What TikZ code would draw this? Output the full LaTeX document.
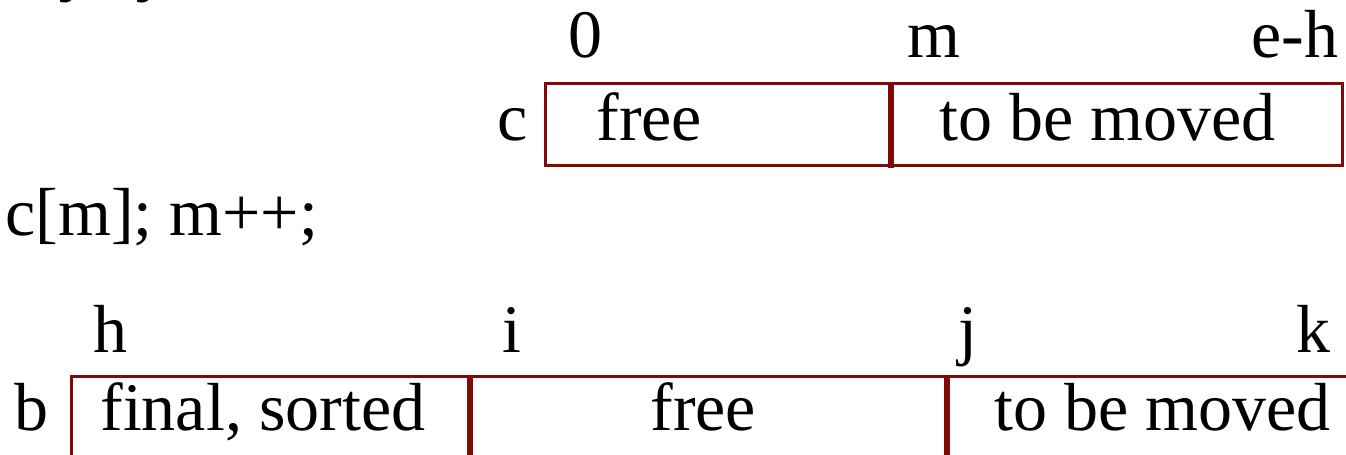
\documentclass[tikz,border=0pt]{standalone}
\usepackage{fontspec}
\setmainfont{Liberation Serif}
\definecolor{boxred}{RGB}{128,10,10}
\begin{document}
\begin{tikzpicture}[x=0.5pt,y=-0.5pt,
  txt/.style={inner sep=0pt,font=\fontsize{34}{40}\selectfont,anchor=base west},
  txtr/.style={txt,anchor=base east},
  frame/.style={draw=boxred,line width=1.5pt},
  divider/.style={draw=boxred,line width=2.6pt}]
\useasboundingbox (0,0) rectangle (1346,455);
\clip (0,0) rectangle (1346,455);
% clipped code line at the top
\node[txt] (code1) at (5,-11) {b[j]; j++;};
% top array c
\node[txt] (l0) at (568,57) {0};
\node[txt] (lm) at (907,57) {m};
\node[txtr] (leh) at (1339,57) {e-h};
\draw[frame] (545,83) rectangle (1342,165);
\coordinate (cdt) at (891,84);
\coordinate (cdb) at (891,168);
\draw[divider] (cdt) -- (cdb);
\node[txt] (cname) at (497,140) {c};
\node[txt] (cfree) at (596,140) {free};
\node[txt] (cmove) at (939,140) {to be moved};
% code line
\node[txt] (code2) at (5,235) {c[m]; m++;};
% bottom array b
\node[txt] (lh) at (93,352) {h};
\node[txt] (li) at (502,352) {i};
\node[txt] (lj) at (958,352) {j};
\node[txtr] (lk) at (1331,352) {k};
\draw[frame] (71,376) rectangle (1400,480);
\coordinate (bd1t) at (470,376);
\coordinate (bd1b) at (470,470);
\coordinate (bd2t) at (947,376);
\coordinate (bd2b) at (947,470);
\draw[divider] (bd1t) -- (bd1b);
\draw[divider] (bd2t) -- (bd2b);
\node[txt] (bname) at (14,430) {b};
\node[txt] (bfinal) at (100,430) {final, sorted};
\node[txt] (bfree) at (650,430) {free};
\node[txt] (bmove) at (994,430) {to be moved};
\end{tikzpicture}
\end{document}
